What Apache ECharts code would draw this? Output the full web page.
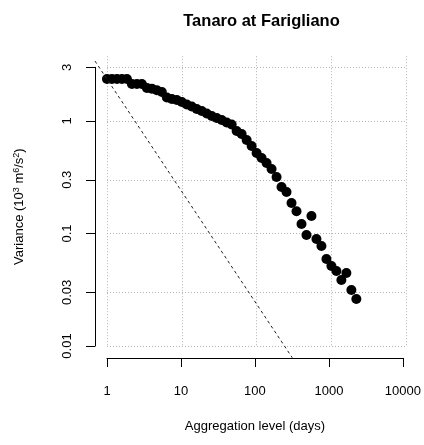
<!DOCTYPE html>
<html>
<head>
<meta charset="utf-8">
<script src="https://cdn.jsdelivr.net/npm/echarts@6/dist/echarts.min.js"></script>
<style>
html,body{margin:0;padding:0;background:#fff;}
#chart{width:424px;height:445px;}
</style>
</head>
<body>
<div id="chart"></div>
<script>
// Aggregation level (days)
const aggregation = [1, 1.166, 1.359, 1.585, 1.848, 2.154, 2.512, 2.929, 3.415, 3.981,
  4.642, 5.412, 6.310, 7.356, 8.577, 10, 11.66, 13.59, 15.85, 18.48,
  21.54, 25.12, 29.29, 34.15, 39.81, 46.42, 54.12, 63.10, 73.56, 85.77,
  100, 116.6, 135.9, 158.5, 184.8, 215.4, 251.2, 292.9, 341.5, 398.1,
  464.2, 541.2, 631.0, 735.6, 857.7, 1000, 1166, 1359, 1585, 1848, 2154];
// Variance (10^3 m^6/s^2)
const variance = [2.36, 2.36, 2.36, 2.36, 2.36, 2.13, 2.13, 2.13, 1.97, 1.94,
  1.88, 1.81, 1.62, 1.57, 1.54, 1.475, 1.40, 1.345, 1.28, 1.23,
  1.166, 1.108, 1.063, 1.02, 0.97, 0.93, 0.815, 0.766, 0.678, 0.60,
  0.52, 0.469, 0.423, 0.374, 0.318, 0.259, 0.234, 0.187, 0.158, 0.1215,
  0.097, 0.143, 0.0894, 0.0774, 0.0593, 0.0514, 0.0464, 0.0386, 0.0446, 0.0315, 0.0262];
const xTicks = [1, 10, 100, 1000, 10000];
const yTicks = [0.01, 0.03, 0.1, 0.3, 1, 3];
const yTickLabels = ['0.01', '0.03', '0.1', '0.3', '1', '3'];
const xTickLabels = ['1', '10', '100', '1000', '10000'];
const XLIM = [1, 10000];
const YLIM = [0.01, 3];

function extend(lim) {
  const a = Math.log10(lim[0]), b = Math.log10(lim[1]);
  const d = (b - a) * 0.04;
  return [Math.pow(10, a - d), Math.pow(10, b + d)];
}
const xu = extend(XLIM), yu = extend(YLIM);
const points = aggregation.map((a, i) => [a, variance[i]]);
const v1 = variance[0];
const refLine = [[xu[0], v1 / xu[0]], [xu[1], v1 / xu[1]]];

const FONT = 'Liberation Sans, Arial, Helvetica, sans-serif';
const gridStyle = { color: '#b4b4b4', width: 1, type: [1, 2] };

function fmtFrom(vals, labels) {
  return function (v) {
    for (let i = 0; i < vals.length; i++) {
      if (Math.abs(Math.log10(v) - Math.log10(vals[i])) < 1e-6) return labels[i];
    }
    return '';
  };
}

const chart = echarts.init(document.getElementById('chart'), null, { renderer: 'canvas' });
chart.setOption({
  animation: false,
  backgroundColor: '#fff',
  title: {
    text: 'Tanaro at Farigliano',
    left: 256.5,
    textAlign: 'center',
    top: 8,
    textStyle: { fontFamily: FONT, fontSize: 16.5, fontWeight: 'bold', color: '#000' }
  },
  grid: [
    { left: 95, right: 5.8, top: 56.2, bottom: 87.8 },      // data region
    { left: 107, right: 18, top: 67.3, bottom: 87 },        // x axis display
    { left: 107, right: 18, top: 56.2, bottom: 99 },        // vertical grid
    { left: 107, right: 18, top: 67.3, bottom: 99 }         // y axis + horizontal grid
  ],
  xAxis: [
    { gridIndex: 0, type: 'log', min: xu[0], max: xu[1], show: false },
    {
      gridIndex: 1, type: 'log', min: XLIM[0], max: XLIM[1], position: 'bottom', offset: 0,
      axisLine: { show: true, lineStyle: { color: '#000', width: 1 } },
      axisTick: { show: true, length: 9, customValues: xTicks, lineStyle: { color: '#000' } },
      axisLabel: { customValues: xTicks, margin: 27, color: '#000', fontFamily: FONT, fontSize: 13,
        formatter: fmtFrom(xTicks, xTickLabels) },
      splitLine: { show: false },
      name: 'Aggregation level (days)', nameLocation: 'middle', nameGap: 62,
      nameTextStyle: { fontFamily: FONT, fontSize: 13, color: '#000' }
    },
    {
      gridIndex: 2, type: 'log', min: XLIM[0], max: XLIM[1],
      axisLine: { show: false }, axisTick: { show: false, customValues: xTicks },
      axisLabel: { show: false },
      splitLine: { show: true, lineStyle: gridStyle }
    },
    { gridIndex: 3, type: 'log', min: XLIM[0], max: XLIM[1], show: false }
  ],
  yAxis: [
    { gridIndex: 0, type: 'log', min: yu[0], max: yu[1], show: false },
    { gridIndex: 1, type: 'value', show: false },
    { gridIndex: 2, type: 'value', show: false },
    {
      gridIndex: 3, type: 'log', min: YLIM[0], max: YLIM[1], position: 'left', offset: 12,
      axisLine: { show: true, lineStyle: { color: '#000', width: 1 } },
      axisTick: { show: true, length: 9, customValues: yTicks, lineStyle: { color: '#000' } },
      axisLabel: { customValues: yTicks, rotate: 90, margin: 21, color: '#000', fontFamily: FONT, fontSize: 13,
        formatter: fmtFrom(yTicks, yTickLabels) },
      splitLine: { show: true, lineStyle: gridStyle },
      name: 'Variance (10{sup|3} m{sup|6}/s{sup|2})', nameLocation: 'middle', nameGap: 68, nameRotate: 90,
      nameTextStyle: { fontFamily: FONT, fontSize: 13, color: '#000',
        rich: { sup: { fontFamily: FONT, fontSize: 9, verticalAlign: 'top', padding: [0, 0, 6, 0], color: '#000' } } }
    }
  ],
  series: [
    {
      type: 'line', xAxisIndex: 0, yAxisIndex: 0, data: refLine, symbol: 'none', clip: true,
      lineStyle: { color: '#222', width: 1, type: [3, 3] }, silent: true
    },
    {
      type: 'scatter', xAxisIndex: 0, yAxisIndex: 0, data: points, symbol: 'circle', symbolSize: 10,
      itemStyle: { color: '#000', opacity: 1 }
    }
  ]
});
</script>
</body>
</html>
